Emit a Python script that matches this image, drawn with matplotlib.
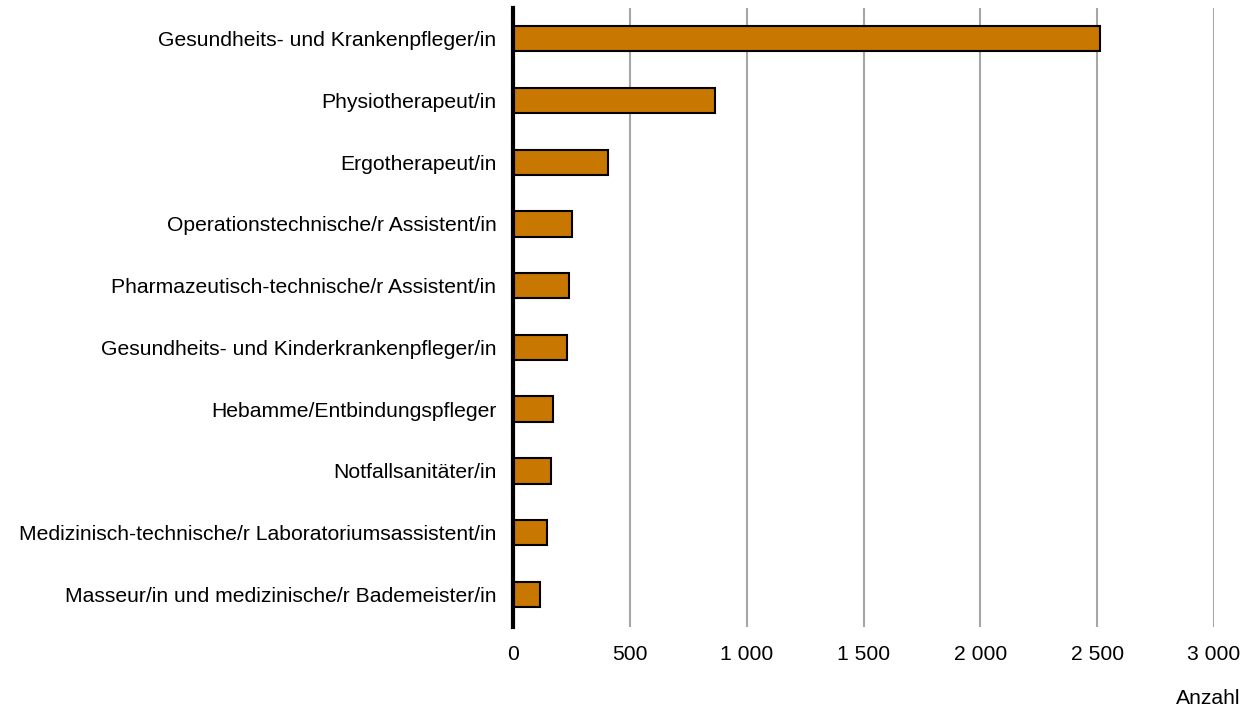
import numpy as np
import matplotlib.pyplot as plt
from matplotlib.ticker import FuncFormatter

berufe = [
    "Gesundheits- und Krankenpfleger/in",
    "Physiotherapeut/in",
    "Ergotherapeut/in",
    "Operationstechnische/r Assistent/in",
    "Pharmazeutisch-technische/r Assistent/in",
    "Gesundheits- und Kinderkrankenpfleger/in",
    "Hebamme/Entbindungspfleger",
    "Notfallsanitäter/in",
    "Medizinisch-technische/r Laboratoriumsassistent/in",
    "Masseur/in und medizinische/r Bademeister/in",
]
anzahl = [2512, 866, 407, 252, 239, 233, 173, 164, 144, 114]
xticks = [0, 500, 1000, 1500, 2000, 2500, 3000]

plt.rcParams['font.family'] = ['Liberation Sans', 'DejaVu Sans']

fig = plt.figure(figsize=(12.53, 7.13), dpi=100)
ax = fig.add_axes([0.4094, 0.1206, 0.5595, 0.8682])

y = np.arange(len(berufe))
ax.barh(y, anzahl, height=0.41, color="#C87700", edgecolor="black", linewidth=1.5, zorder=3)

ax.set_xlim(0, 3000)
ax.set_ylim(len(berufe) - 0.47, -0.5)
ax.set_yticks(y)
ax.set_yticklabels(berufe, fontsize=15.2)
ax.set_xticks(xticks)
ax.xaxis.set_major_formatter(FuncFormatter(lambda v, p: f"{int(v):,}".replace(",", " ")))
ax.tick_params(axis="x", length=0, pad=13, labelsize=15.2)
ax.tick_params(axis="y", length=0, pad=12)

# nur vertikale Gitterlinien
ax.grid(axis="x", color="#a6a6a6", linewidth=1.5, zorder=0)
for s in ["top", "right", "bottom"]:
    ax.spines[s].set_visible(False)
ax.spines["left"].set_linewidth(3)
ax.spines["left"].set_zorder(4)

fig.text(1240 / 1253, 1 - 698 / 713, "Anzahl", ha="right", va="center", fontsize=15.2)

fig.savefig("out.png", dpi=100)
